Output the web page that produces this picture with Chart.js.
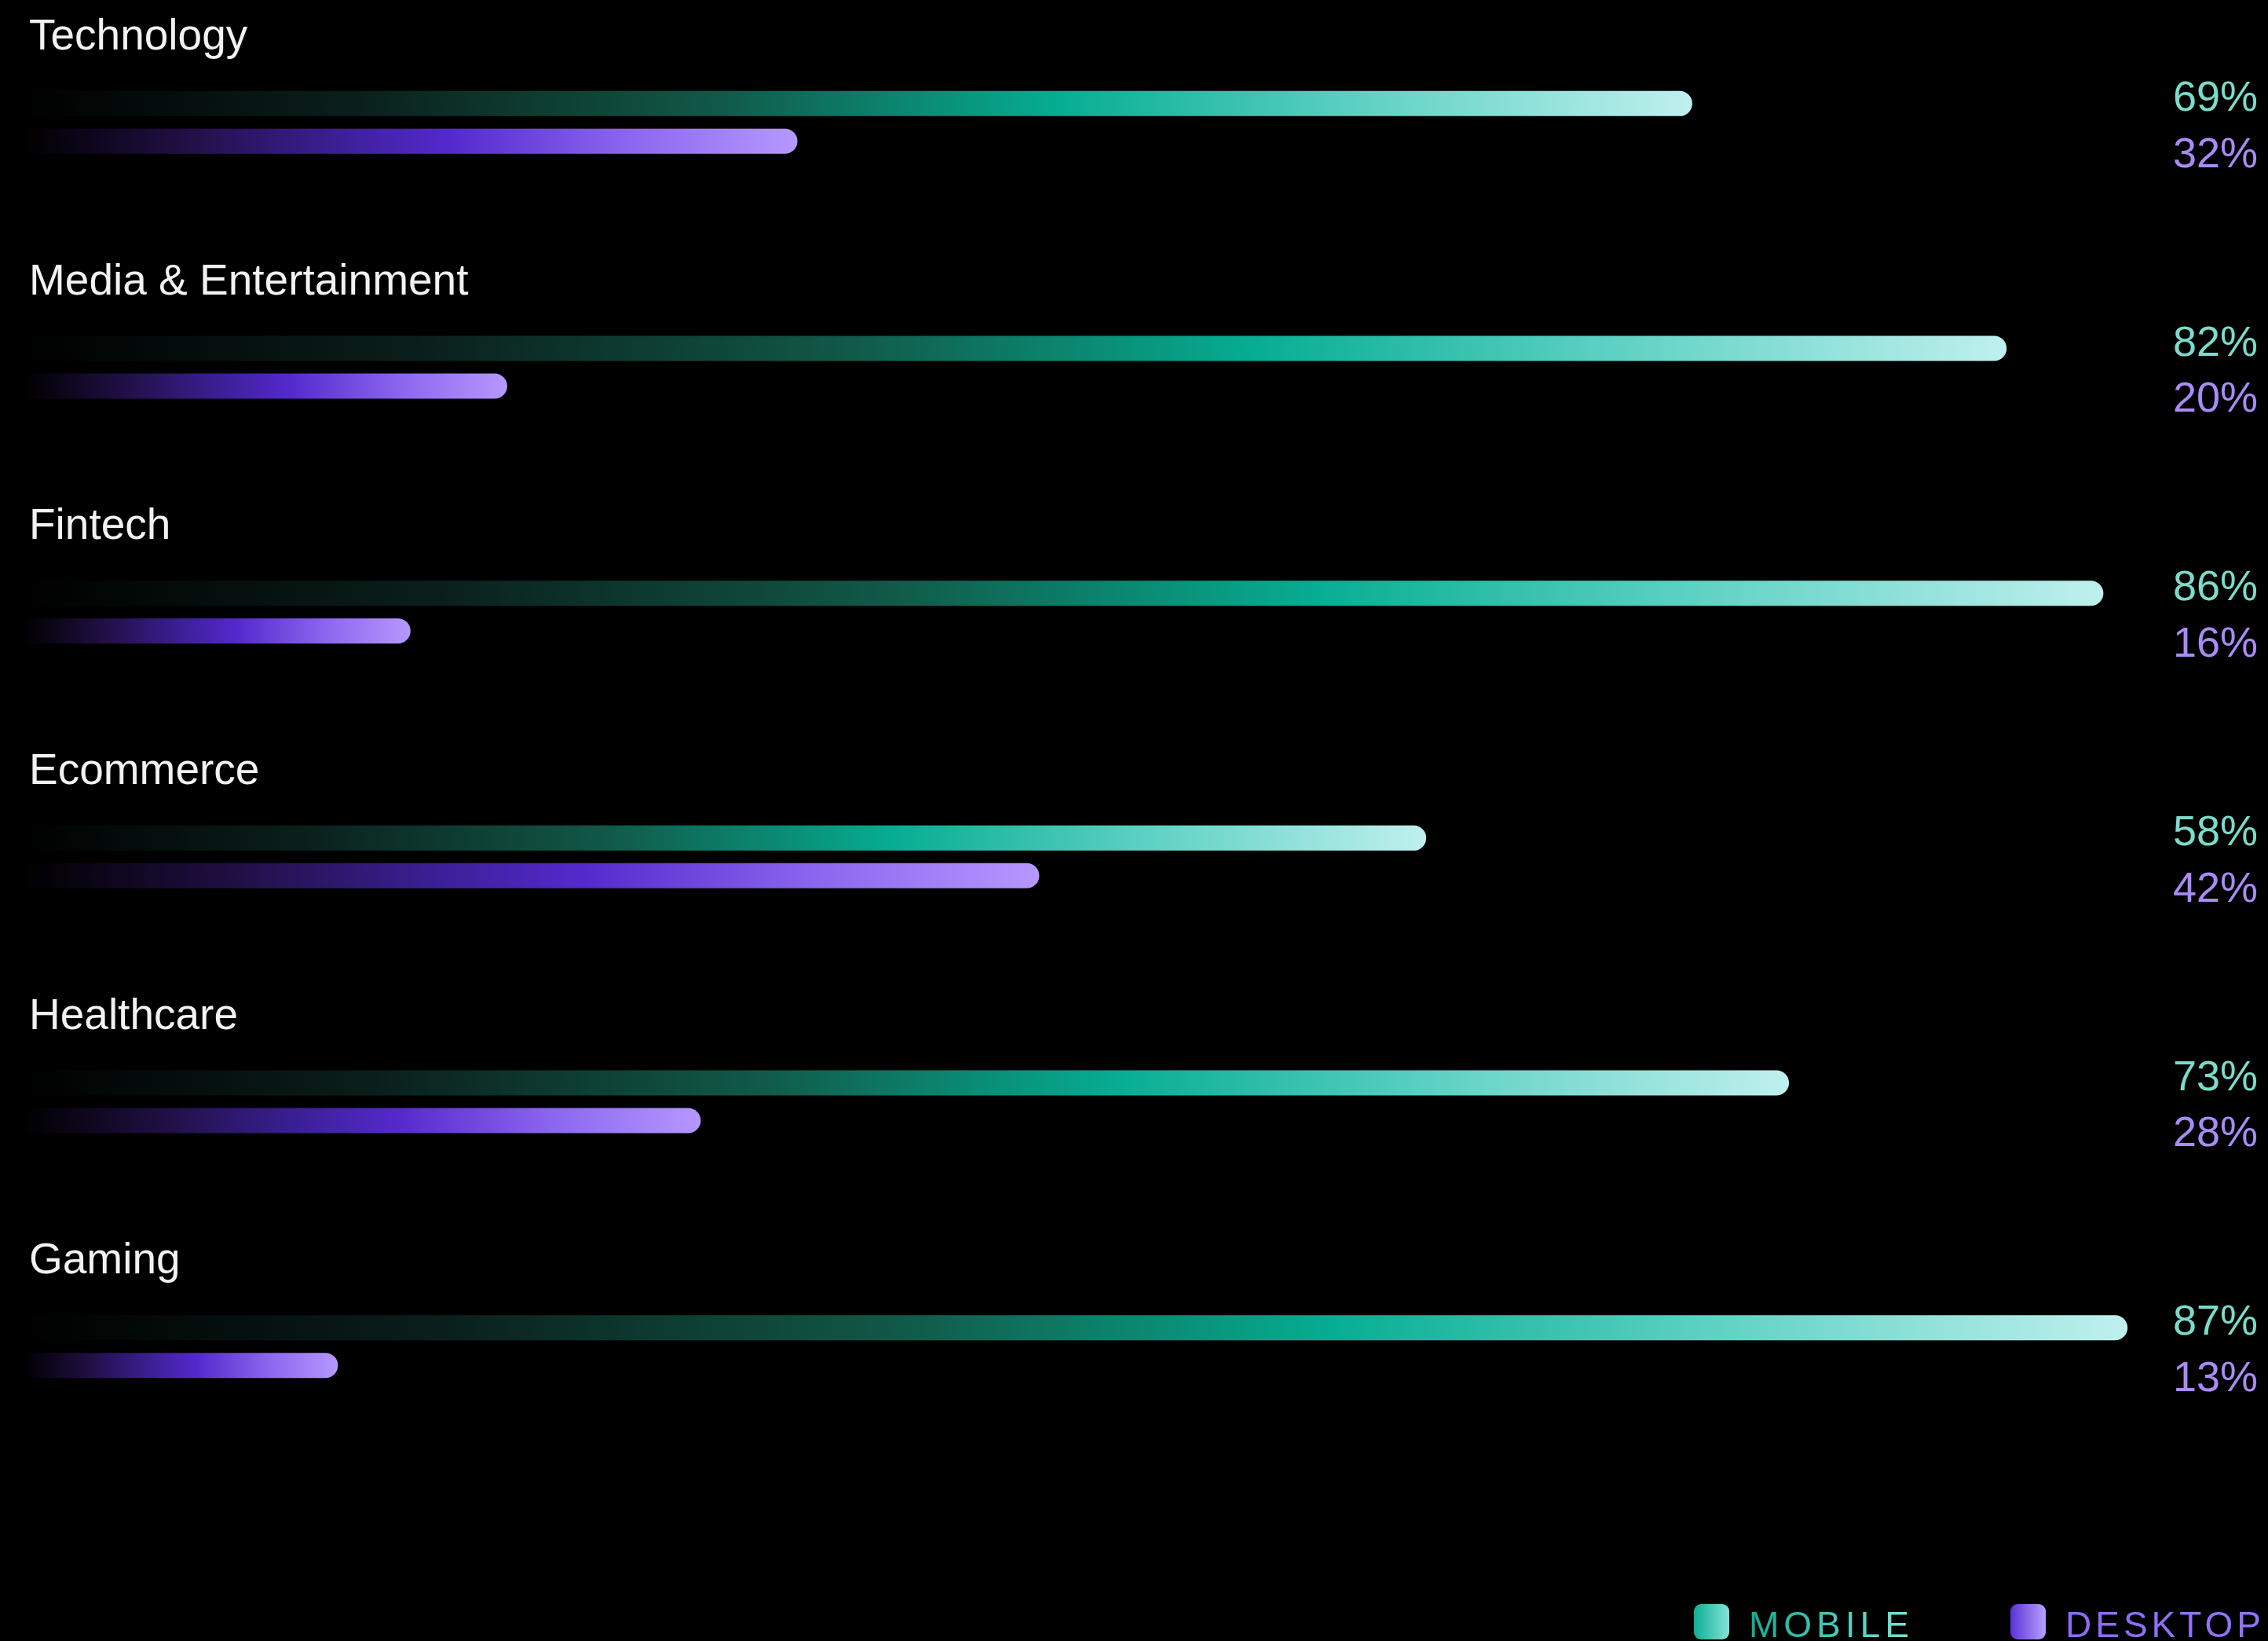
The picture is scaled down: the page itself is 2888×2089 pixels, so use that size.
<!DOCTYPE html>
<html>
<head>
<meta charset="utf-8">
<script src="https://cdn.jsdelivr.net/npm/chart.js@4.4.1/dist/chart.umd.min.js"></script>
<style>
  html, body { margin: 0; padding: 0; background: #000; }
  #wrap { width: 2888px; height: 2089px; position: relative; }
</style>
</head>
<body>
<div id="wrap"><canvas id="usage"></canvas></div>
<script>
// categories + shares
const categories = ['Technology', 'Media & Entertainment', 'Fintech', 'Ecommerce', 'Healthcare', 'Gaming'];
const mobileShare = [69, 82, 86, 58, 73, 87];
const desktopShare = [32, 20, 16, 42, 28, 13];
const seriesNames = ['MOBILE', 'DESKTOP'];

const FONT = '"Liberation Sans", Arial, Helvetica, sans-serif';

const mobileStops = [
  [0, '#000000'],
  [0.2, '#0a1f1b'],
  [0.42, '#115a49'],
  [0.62, '#06ad92'],
  [0.8, '#5dd1c3'],
  [1, '#bff0ee'],
];
const desktopStops = [
  [0, '#000000'],
  [0.22, '#221048'],
  [0.4, '#3a1f93'],
  [0.55, '#5429cc'],
  [0.78, '#8b66ef'],
  [1, '#b698ff'],
];

function barGradient(stops) {
  return (ctx) => {
    const chart = ctx.chart;
    if (!chart.chartArea || ctx.type !== 'data') return stops[stops.length - 1][1];
    const xs = chart.scales.x;
    const x0 = xs.getPixelForValue(0);
    const x1 = xs.getPixelForValue(ctx.raw);
    const g = chart.ctx.createLinearGradient(x0, 0, x1, 0);
    stops.forEach(([o, c]) => g.addColorStop(o, c));
    return g;
  };
}

// category titles above each pair + percentage on the right
const rowText = {
  id: 'rowText',
  afterDatasetsDraw(chart) {
    const ctx = chart.ctx;
    const mob = chart.getDatasetMeta(0).data;
    const desk = chart.getDatasetMeta(1).data;
    const right = chart.width - 13;
    ctx.save();
    ctx.textBaseline = 'alphabetic';
    mob.forEach((bar, i) => {
      ctx.font = `55px ${FONT}`;
      ctx.fillStyle = '#f2f2f2';
      ctx.textAlign = 'left';
      ctx.fillText(categories[i], 37, bar.y - 69);

      ctx.font = `54px ${FONT}`;
      ctx.textAlign = 'right';
      ctx.fillStyle = '#7adcca';
      ctx.fillText(mobileShare[i] + '%', right, bar.y + 9);
      ctx.fillStyle = '#a98bf6';
      ctx.fillText(desktopShare[i] + '%', right, desk[i].y + 33);
    });
    ctx.restore();
  },
};

// legend in the bottom right corner
const cornerLegend = {
  id: 'cornerLegend',
  afterDraw(chart) {
    const ctx = chart.ctx;
    const items = [
      { text: seriesNames[0], swatch: ['#0fae94', '#84e3d9'], ink: ['#0fae94', '#7fe0d5'], x: 2157, spacing: 6 },
      { text: seriesNames[1], swatch: ['#5a32d3', '#b7a0ff'], ink: ['#8c6bf5', '#9274f7'], x: 2560, spacing: 5 },
    ];
    const top = 2042, size = 45, baseline = 2084;
    ctx.save();
    items.forEach(it => {
      let g = ctx.createLinearGradient(it.x, 0, it.x + size, 0);
      g.addColorStop(0, it.swatch[0]);
      g.addColorStop(1, it.swatch[1]);
      ctx.fillStyle = g;
      ctx.beginPath();
      ctx.roundRect(it.x, top, size, size, 9);
      ctx.fill();

      ctx.font = `46px ${FONT}`;
      ctx.letterSpacing = it.spacing + 'px';
      ctx.textAlign = 'left';
      ctx.textBaseline = 'alphabetic';
      const tx = it.x + size + 25;
      const w = ctx.measureText(it.text).width;
      g = ctx.createLinearGradient(tx, 0, tx + w, 0);
      g.addColorStop(0, it.ink[0]);
      g.addColorStop(1, it.ink[1]);
      ctx.fillStyle = g;
      ctx.fillText(it.text, tx, baseline);
    });
    ctx.restore();
  },
};

new Chart(document.getElementById('usage'), {
  type: 'bar',
  data: {
    labels: categories,
    datasets: [
      {
        label: seriesNames[0],
        data: mobileShare,
        backgroundColor: barGradient(mobileStops),
        borderRadius: 16,
        borderSkipped: 'start',
        barPercentage: 0.667,
        categoryPercentage: 0.3077,
      },
      {
        label: seriesNames[1],
        data: desktopShare,
        backgroundColor: barGradient(desktopStops),
        borderRadius: 16,
        borderSkipped: 'start',
        barPercentage: 0.667,
        categoryPercentage: 0.3077,
      },
    ],
  },
  options: {
    indexAxis: 'y',
    responsive: true,
    maintainAspectRatio: false,
    animation: false,
    layout: { padding: { left: 30, right: 148, top: 0, bottom: 219 } },
    plugins: {
      legend: { display: false },
      tooltip: { enabled: false },
    },
    scales: {
      x: { display: false, min: 0, max: 88, grid: { display: false } },
      y: { display: false, grid: { display: false } },
    },
  },
  plugins: [rowText, cornerLegend],
});
</script>
</body>
</html>
